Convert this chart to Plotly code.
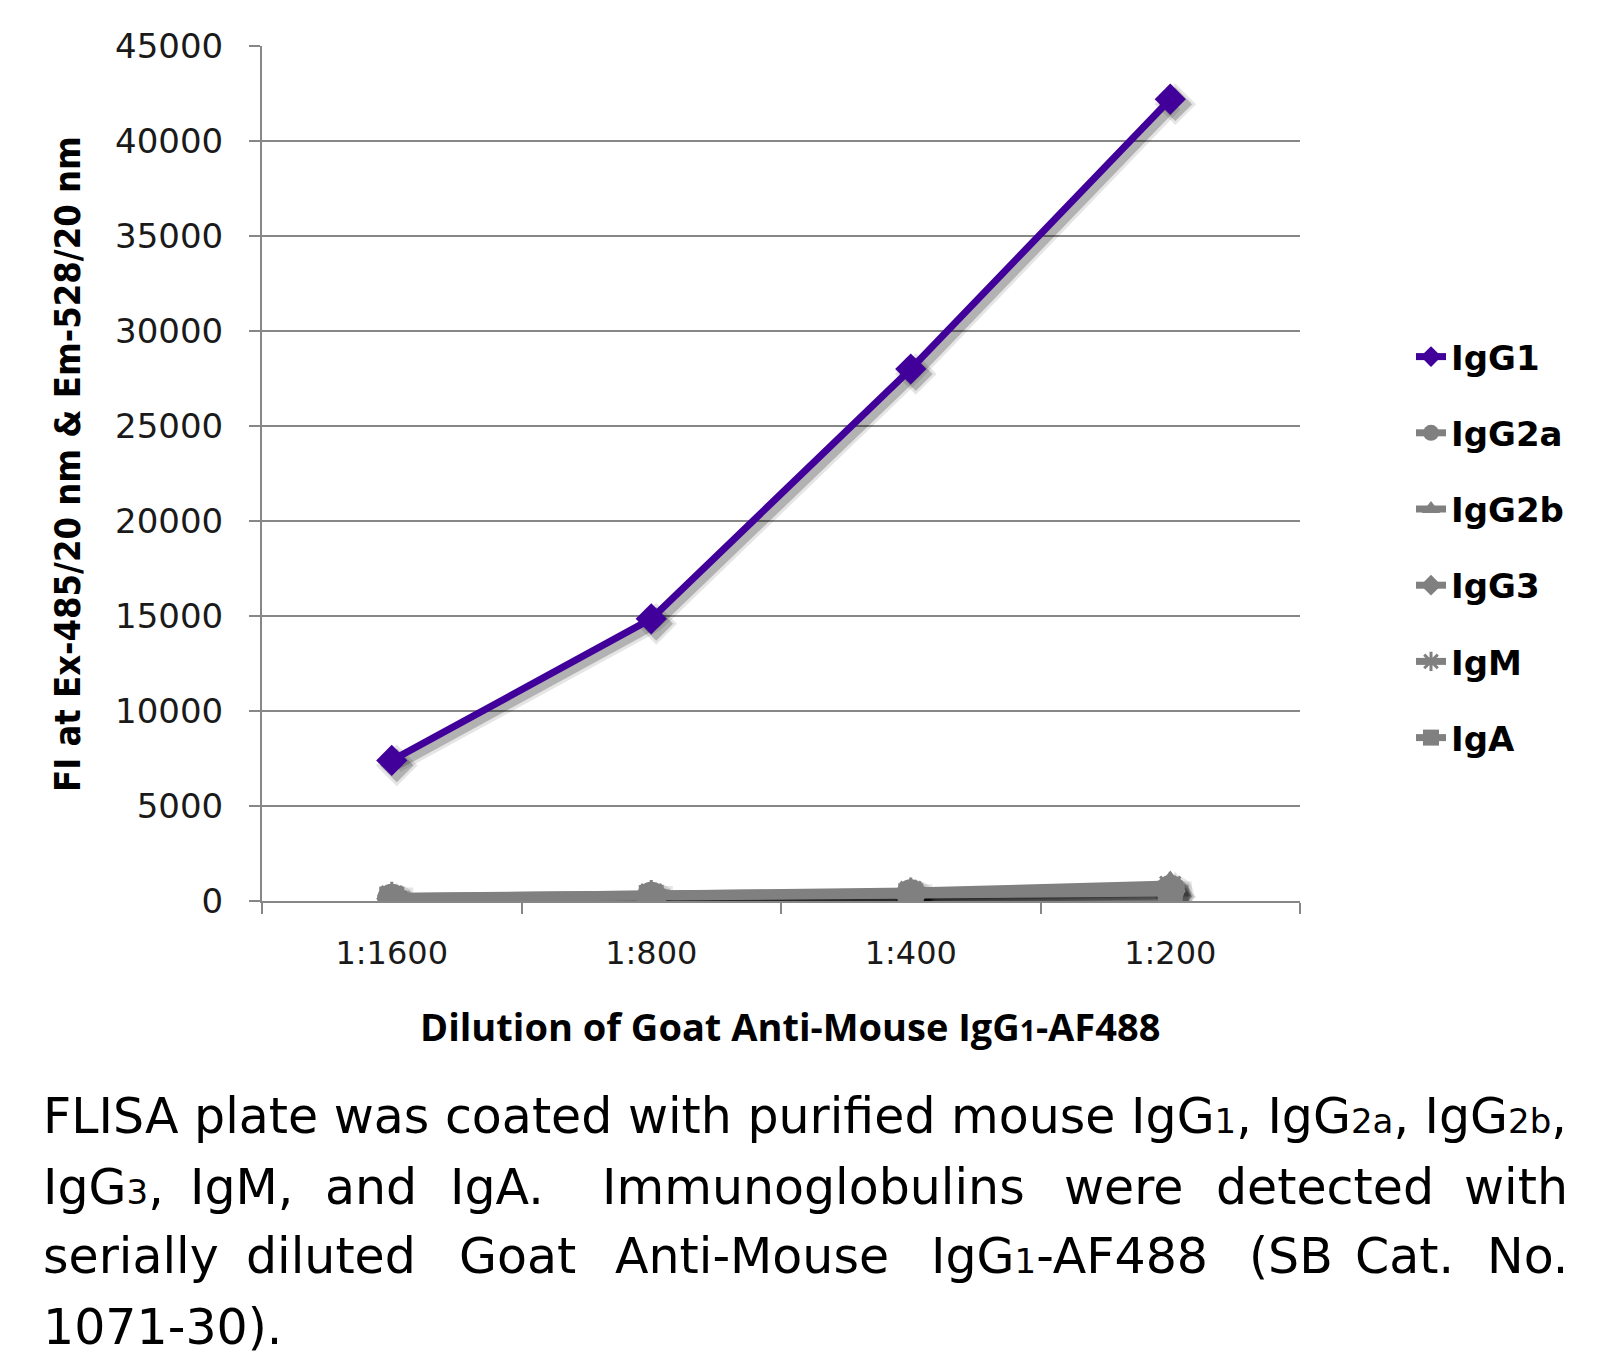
import plotly.graph_objects as go

# ---------------- data ----------------
categories = ["1:1600", "1:800", "1:400", "1:200"]
series_names = ["IgG1", "IgG2a", "IgG2b", "IgG3", "IgM", "IgA"]
IgG1 = [7400, 14850, 28000, 42200]
IgG2a = [150, 250, 380, 600]
IgG2b = [220, 330, 520, 900]
IgG3 = [120, 200, 330, 500]
IgM = [250, 350, 480, 750]
IgA = [100, 180, 280, 420]
y_ticks = [0, 5000, 10000, 15000, 20000, 25000, 30000, 35000, 40000, 45000]

series_values = [IgG1, IgG2a, IgG2b, IgG3, IgM, IgA]
symbols = ["diamond", "circle", "triangle-up", "diamond", "asterisk-open", "square"]
colors = ["#41009A", "#808080", "#808080", "#808080", "#808080", "#808080"]
sizes = [24, 29, 27, 24, 24, 25]

W, H = 1609, 1360
L, R, T, B = 262, 1300, 46, 901
pw, ph = R - L, B - T

def px(xp):
    return (xp - L) / pw

def py(yp):
    return (B - yp) / ph

fig = go.Figure()

# soft shadows on main (hidden, slightly shifted) axes
idx = list(range(len(categories)))
for alpha, extra in [(0.10, 8), (0.22, 2)]:
    for name, vals, sym, sz in zip(series_names, series_values, symbols, sizes):
        fig.add_trace(go.Scatter(
            x=idx, y=vals, mode="lines+markers", showlegend=False, hoverinfo="skip",
            line=dict(color="rgba(0,0,0,%.2f)" % alpha, width=7 + extra),
            marker=dict(symbol=sym.replace("-open", ""), size=sz + extra,
                        color="rgba(0,0,0,%.2f)" % alpha, line=dict(width=0)),
            xaxis="x", yaxis="y",
        ))

# main series on overlay axes (drawn above shadows)
order = [1, 2, 3, 4, 5, 0]
for i in order:
    name, vals, sym, col, sz = series_names[i], series_values[i], symbols[i], colors[i], sizes[i]
    mk = dict(symbol=sym, size=sz, color=col, line=dict(width=0, color=col))
    if sym.endswith("-open"):
        mk["line"] = dict(width=3, color=col)
    fig.add_trace(go.Scatter(
        x=categories, y=vals, name=name, mode="lines+markers",
        line=dict(color=col, width=7),
        marker=mk, legendrank=i + 1, legendgroup=name,
        xaxis="x2", yaxis="y2",
    ))

gc = "#878787"
dx = 5 / (pw / len(categories))
dy = 5 * 45000 / ph
fig.update_layout(
    width=W, height=H, autosize=False,
    margin=dict(l=L, r=W - R, t=T, b=H - B),
    paper_bgcolor="white", plot_bgcolor="white",
    xaxis=dict(visible=False, range=[-0.5 - dx, len(categories) - 0.5 - dx]),
    yaxis=dict(visible=False, range=[0 + dy, 45000 + dy]),
    xaxis2=dict(
        overlaying="x", anchor="y2", type="category", categoryorder="array",
        categoryarray=categories, range=[-0.5, len(categories) - 0.5],
        tickson="boundaries", ticks="outside", ticklen=11, tickwidth=2, tickcolor=gc,
        showline=True, linecolor=gc, linewidth=2, showgrid=False,
        tickfont=dict(family="DejaVu Sans", size=32, color="#1a1a1a"),
        ticklabelstandoff=23,
    ),
    yaxis2=dict(
        overlaying="y", anchor="x2", side="left", range=[0, 45000],
        tickvals=y_ticks, ticktext=[str(v) for v in y_ticks],
        ticks="outside", ticklen=11, tickwidth=2, tickcolor=gc,
        showline=True, linecolor=gc, linewidth=2,
        showgrid=True, gridcolor=gc, gridwidth=2, zeroline=False,
        tickfont=dict(family="DejaVu Sans", size=34, color="#1a1a1a"),
        ticklabelstandoff=19,
    ),
    legend=dict(
        x=px(1411), y=py(328), xanchor="left", yanchor="top",
        font=dict(family="DejaVu Sans", size=34, color="black", weight="bold"),
        tracegroupgap=29, bgcolor="rgba(0,0,0,0)",
    ),
    showlegend=True,
)

annotations = [
    dict(text="FI at Ex-485/20 nm &amp; Em-528/20 nm", x=px(67), y=py(464),
         textangle=-90, font=dict(family="DejaVu Sans Condensed", size=36, color="black", weight="bold")),
    dict(text="Dilution of Goat Anti-Mouse IgG<span style='font-size:28px'>1</span>-AF488",
         x=px(790), y=py(1026),
         font=dict(family="Open Sans", size=38, color="black", weight="bold")),
]

cap_font = dict(family="DejaVu Sans", size=49, color="black")
sub = lambda s: "<span style='font-size:34px'>" + s + "</span>"
line1 = ("FLISA plate was coated with purified mouse IgG" + sub("1") + ", IgG" + sub("2a")
         + ", IgG" + sub("2b") + ",")
annotations.append(dict(text=line1, x=px(41), y=py(1116), xanchor="left", font=cap_font))
line2_words = ["IgG" + sub("3") + ",", "IgM,", "and", "IgA.", "Immunoglobulins", "were", "detected", "with"]
line2_x = [41, 188, 323, 448, 600, 1062, 1214, 1570]
line3_words = ["serially", "diluted", "Goat", "Anti-Mouse", "IgG" + sub("1") + "-AF488", "(SB", "Cat.", "No."]
line3_x = [41, 244, 457, 613, 929, 1247, 1353, 1570]
for words, xs, yp in [(line2_words, line2_x, 1187), (line3_words, line3_x, 1256)]:
    for k, (w, xp) in enumerate(zip(words, xs)):
        annotations.append(dict(text=w, x=px(xp), y=py(yp),
                                xanchor="right" if k == len(words) - 1 else "left", font=cap_font))
annotations.append(dict(text="1071-30).", x=px(41), y=py(1327), xanchor="left", font=cap_font))

for a in annotations:
    a.setdefault("xanchor", "center")
    a.update(xref="paper", yref="paper", showarrow=False, yanchor="middle")
fig.update_layout(annotations=annotations)

fig.write_html("out.html", config={"displayModeBar": False},
               post_script="document.body.style.margin='0px';")
